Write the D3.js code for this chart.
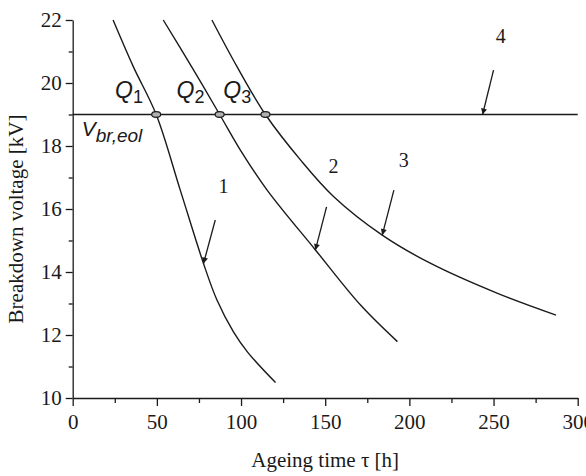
<!DOCTYPE html>
<html>
<head>
<meta charset="utf-8">
<script src="https://cdn.jsdelivr.net/npm/d3@7"></script>
<style>
  body { margin: 0; background: #fff; }
  svg { display: block; }
  .serif { font-family: "Liberation Serif", "Times New Roman", serif; }
  .sans { font-family: "Liberation Sans", Arial, sans-serif; }
</style>
</head>
<body>
<svg width="586" height="476"></svg>
<script>
// ageing time tau [h] vs breakdown voltage [kV]
const xTicks = [0, 50, 100, 150, 200, 250, 300];
const xMinor = [25, 75, 125, 175, 225, 275];
const yTicks = [10, 12, 14, 16, 18, 20, 22];
const yMinor = [11, 13, 15, 17, 19, 21];

const curve1 = [[24, 22], [36, 20.52], [49.6, 19], [63.9, 16.6], [77.7, 14.27], [85.7, 13.11],
  [95.5, 12.1], [104, 11.45], [120.5, 10.49]];
const curve2 = [[53.8, 22], [70.6, 20.52], [87.3, 19], [99.6, 17.87], [115.5, 16.6], [144.2, 14.7],
  [171, 12.95], [192.9, 11.79]];
const curve3 = [[82.7, 22], [97.6, 20.52], [114.5, 19], [135.3, 17.56], [155.1, 16.39], [183.9, 15.17],
  [212.7, 14.27], [252.4, 13.32], [287.1, 12.63]];
const eolLevel = 19;
const eolRange = [0, 300];

// intersections Q1..Q3 with the end-of-life level
const qTau = [49.6, 87.3, 114.5];
const qNames = ["1", "2", "3"];
const qLabelTau = [25.2, 61.7, 89.5];

// curve numbers and their arrows (data units)
const curveNames = ["1", "2", "3", "4"];
const namePos = [[89.6, 16.51], [155, 17.14], [196.6, 17.33], [254.3, 21.27]];
const arrowFrom = [[84.7, 15.65], [150.8, 16.07], [190.8, 16.6], [250, 20.41]];
const arrowTo = [[77.7, 14.27], [144.2, 14.7], [183.9, 15.17], [243.5, 19]];

const svg = d3.select("svg");
const margin = { top: 20, right: 8.3, bottom: 78, left: 72.7 };
const width = +svg.attr("width") - margin.left - margin.right;
const height = +svg.attr("height") - margin.top - margin.bottom;
const g = svg.append("g").attr("transform", `translate(${margin.left},${margin.top})`);

const x = d3.scaleLinear().domain([0, 300]).range([0, width]);
const y = d3.scaleLinear().domain([10, 22]).range([height, 0]);

const ink = "#1a1a1a";

// arrow head
svg.append("defs").append("marker")
  .attr("id", "head")
  .attr("viewBox", "0 0 10 10")
  .attr("refX", 10).attr("refY", 5)
  .attr("markerWidth", 9).attr("markerHeight", 6)
  .attr("markerUnits", "userSpaceOnUse")
  .attr("orient", "auto")
  .append("path")
  .attr("d", "M0,0 L10,5 L0,10 Z")
  .attr("fill", ink);

// axes
g.append("g")
  .attr("class", "serif")
  .attr("transform", `translate(0,${height})`)
  .call(d3.axisBottom(x).tickValues(xTicks).tickSize(8).tickPadding(8).tickSizeOuter(0));
g.append("g")
  .attr("transform", `translate(0,${height})`)
  .call(d3.axisBottom(x).tickValues(xMinor).tickSize(5).tickFormat("").tickSizeOuter(0))
  .select(".domain").remove();

g.append("g")
  .attr("class", "serif")
  .call(d3.axisLeft(y).tickValues(yTicks).tickSize(7).tickPadding(4).tickSizeOuter(0));
g.append("g")
  .call(d3.axisLeft(y).tickValues(yMinor).tickSize(4).tickFormat("").tickSizeOuter(0))
  .select(".domain").remove();

g.selectAll(".domain, .tick line").attr("stroke", ink).attr("stroke-width", 1.3);
g.selectAll(".tick text").attr("fill", ink).style("font-size", "21px")
  .attr("font-family", "Liberation Serif, Times New Roman, serif");

// axis titles
svg.append("text")
  .attr("class", "serif")
  .attr("x", margin.left + width / 2).attr("y", 467)
  .attr("text-anchor", "middle")
  .attr("fill", ink)
  .style("font-size", "21px")
  .text("Ageing time τ [h]");

svg.append("text")
  .attr("class", "serif")
  .attr("transform", `translate(22.5,${margin.top + height / 2 + 10}) rotate(-90)`)
  .attr("text-anchor", "middle")
  .attr("fill", ink)
  .style("font-size", "21px")
  .text("Breakdown voltage [kV]");

// curves
const line = d3.line().x(d => x(d[0])).y(d => y(d[1])).curve(d3.curveCatmullRom.alpha(0.5));
[curve1, curve2, curve3].forEach(c => {
  g.append("path")
    .datum(c)
    .attr("d", line)
    .attr("fill", "none")
    .attr("stroke", ink)
    .attr("stroke-width", 1.4);
});

// end of life level
g.append("line")
  .attr("x1", x(eolRange[0])).attr("x2", x(eolRange[1]))
  .attr("y1", y(eolLevel)).attr("y2", y(eolLevel))
  .attr("stroke", ink).attr("stroke-width", 1.4);

// Q points
g.selectAll(".q")
  .data(qTau)
  .enter()
  .append("ellipse")
  .attr("class", "q")
  .attr("cx", d => x(d)).attr("cy", y(eolLevel))
  .attr("rx", 4.5).attr("ry", 2.8)
  .attr("fill", "#b0b0b0")
  .attr("stroke", ink).attr("stroke-width", 1.2);

const qText = g.selectAll(".qlabel")
  .data(qNames)
  .enter()
  .append("text")
  .attr("class", "sans qlabel")
  .attr("x", (d, i) => x(qLabelTau[i]))
  .attr("y", y(eolLevel) - 17)
  .attr("fill", ink);
qText.append("tspan").style("font-size", "23px").style("font-style", "italic").text("Q");
qText.append("tspan").style("font-size", "18px").attr("dy", 5).text(d => d);

const vText = g.append("text")
  .attr("class", "sans")
  .attr("x", x(5.4)).attr("y", y(eolLevel) + 21)
  .attr("fill", ink)
  .style("font-style", "italic");
vText.append("tspan").style("font-size", "21px").text("V");
vText.append("tspan").style("font-size", "19px").attr("dy", 6).text("br,eol");

// curve numbers and arrows
g.selectAll(".arrow")
  .data(arrowFrom)
  .enter()
  .append("line")
  .attr("class", "arrow")
  .attr("x1", d => x(d[0])).attr("y1", d => y(d[1]))
  .attr("x2", (d, i) => x(arrowTo[i][0])).attr("y2", (d, i) => y(arrowTo[i][1]))
  .attr("stroke", ink).attr("stroke-width", 1.3)
  .attr("marker-end", "url(#head)");

g.selectAll(".cname")
  .data(curveNames)
  .enter()
  .append("text")
  .attr("class", "serif cname")
  .attr("x", (d, i) => x(namePos[i][0])).attr("y", (d, i) => y(namePos[i][1]))
  .attr("text-anchor", "middle")
  .attr("fill", ink)
  .style("font-size", "20px")
  .text(d => d);
</script>
</body>
</html>
